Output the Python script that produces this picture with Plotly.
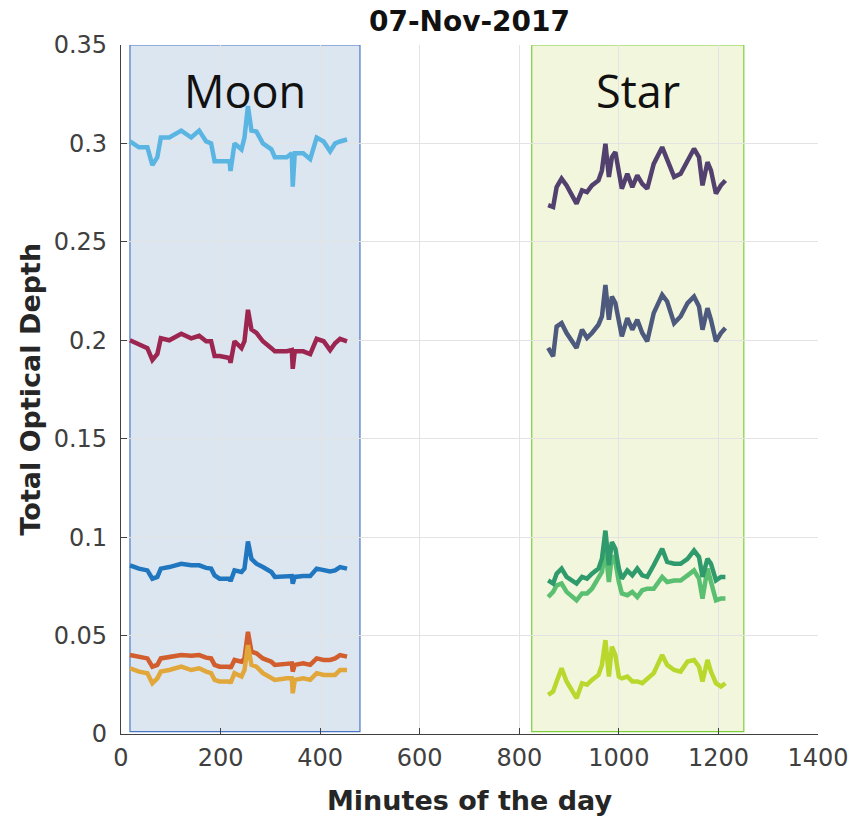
import plotly.graph_objects as go

title_text = "07-Nov-2017"
x_label = "Minutes of the day"
y_label = "Total Optical Depth"

x_tick_vals = [0, 200, 400, 600, 800, 1000, 1200, 1400]
y_tick_vals = [0, 0.05, 0.1, 0.15, 0.2, 0.25, 0.3, 0.35]
y_tick_text = ["0", "0.05", "0.1", "0.15", "0.2", "0.25", "0.3", "0.35"]

moon_window = [18, 480]
star_window = [825, 1251]

moon_minutes = [18, 36, 53, 63, 73, 80, 97, 121, 141, 157, 171, 181, 188, 198, 218, 220, 228, 242, 248,
                255, 262, 272, 285, 302, 309, 333, 343, 345, 349, 366, 380, 393, 407, 420, 430, 440, 454]

moon_lightblue = [0.301, 0.298, 0.298, 0.289, 0.293, 0.303, 0.303, 0.3065, 0.303, 0.3065, 0.301, 0.300,
                  0.291, 0.291, 0.291, 0.286, 0.300, 0.297, 0.303, 0.319, 0.3065, 0.306, 0.300, 0.297,
                  0.293, 0.293, 0.295, 0.278, 0.295, 0.295, 0.292, 0.303, 0.301, 0.296, 0.300, 0.301, 0.302]
moon_crimson = [0.200, 0.198, 0.196, 0.190, 0.193, 0.201, 0.200, 0.2033, 0.201, 0.2023, 0.1995, 0.1995,
                0.192, 0.192, 0.191, 0.1885, 0.1995, 0.196, 0.1995, 0.2155, 0.2055, 0.2038, 0.1995, 0.196,
                0.1944, 0.1944, 0.195, 0.1855, 0.1944, 0.1944, 0.193, 0.2007, 0.1995, 0.195, 0.1985,
                0.2007, 0.1995]
moon_blue = [0.0857, 0.084, 0.0831, 0.0789, 0.0798, 0.084, 0.0848, 0.0865, 0.0857, 0.0857, 0.0844, 0.084,
             0.0806, 0.0789, 0.0789, 0.0776, 0.0831, 0.0823, 0.084, 0.0978, 0.089, 0.0865, 0.0848, 0.0823,
             0.0798, 0.0802, 0.0802, 0.0764, 0.0798, 0.0802, 0.0802, 0.084, 0.0831, 0.0826, 0.0831,
             0.0848, 0.084]
moon_orange = [0.0401, 0.0393, 0.0384, 0.0342, 0.0351, 0.0384, 0.0393, 0.0401, 0.0397, 0.0401, 0.0388,
               0.0384, 0.0351, 0.0342, 0.0342, 0.0334, 0.0376, 0.0367, 0.0384, 0.0519, 0.0418, 0.041,
               0.0384, 0.0367, 0.0351, 0.0359, 0.0359, 0.0317, 0.0351, 0.0359, 0.0351, 0.0384, 0.0376,
               0.0376, 0.0384, 0.0401, 0.0393]
moon_yellow = [0.0334, 0.0317, 0.0309, 0.0258, 0.0283, 0.0317, 0.0325, 0.0342, 0.0325, 0.0334, 0.0317,
               0.0309, 0.0275, 0.0267, 0.0267, 0.0258, 0.0309, 0.0292, 0.0325, 0.0452, 0.0351, 0.0342,
               0.0309, 0.0283, 0.0275, 0.0283, 0.0283, 0.0207, 0.0275, 0.0283, 0.0275, 0.0309, 0.030,
               0.030, 0.030, 0.0325, 0.0325]

star_minutes = [858, 868, 875, 885, 895, 915, 926, 936, 946, 959, 966, 973, 980, 986, 993, 1000, 1006, 1017,
                1027, 1037, 1047, 1057, 1070, 1087, 1097, 1111, 1124, 1138, 1151, 1161, 1168, 1178, 1185,
                1195, 1205, 1214]

star_purple = [0.2686, 0.2677, 0.2778, 0.2821, 0.2787, 0.2694, 0.2762, 0.2753, 0.2787, 0.2812, 0.2863,
               0.2998, 0.283, 0.293, 0.2956, 0.2863, 0.277, 0.2846, 0.2778, 0.2838, 0.2795, 0.277, 0.2896,
               0.2981, 0.2913, 0.283, 0.2846, 0.2913, 0.2973, 0.293, 0.2787, 0.2905, 0.2863, 0.2745,
               0.2787, 0.2812]
star_slate = [0.1961, 0.1919, 0.207, 0.2087, 0.2037, 0.1961, 0.2054, 0.2012, 0.2037, 0.2079, 0.2121,
              0.2281, 0.2104, 0.2222, 0.2189, 0.2104, 0.202, 0.2113, 0.2054, 0.2104, 0.2037, 0.1995,
              0.2138, 0.2231, 0.2197, 0.2087, 0.2121, 0.2189, 0.2222, 0.2172, 0.2054, 0.2163, 0.2104,
              0.1995, 0.2037, 0.2062]
star_teal = [0.078, 0.0764, 0.0814, 0.084, 0.0798, 0.0764, 0.0798, 0.0789, 0.0814, 0.084, 0.089, 0.1033,
             0.0857, 0.0975, 0.0941, 0.084, 0.0789, 0.0831, 0.0806, 0.084, 0.0806, 0.0798, 0.0857, 0.0941,
             0.0874, 0.0865, 0.0865, 0.089, 0.0932, 0.0899, 0.0798, 0.089, 0.0865, 0.078, 0.0798, 0.0798]
star_green = [0.0696, 0.0722, 0.0755, 0.0764, 0.0722, 0.0679, 0.0714, 0.0714, 0.0738, 0.0789, 0.0823,
              0.0941, 0.0772, 0.0907, 0.0874, 0.0772, 0.0714, 0.0705, 0.0722, 0.0696, 0.073, 0.0738,
              0.0738, 0.0798, 0.0772, 0.078, 0.078, 0.0806, 0.0831, 0.0789, 0.0688, 0.084, 0.078, 0.0679,
              0.0688, 0.0688]
star_yellowgreen = [0.0199, 0.0216, 0.0267, 0.0334, 0.0267, 0.0182, 0.0258, 0.025, 0.0275, 0.030, 0.0351,
                    0.0477, 0.0292, 0.0444, 0.0401, 0.0292, 0.0283, 0.0292, 0.0267, 0.0267, 0.0258, 0.0283,
                    0.0309, 0.0401, 0.0351, 0.0325, 0.0317, 0.0368, 0.0376, 0.0342, 0.0267, 0.0376, 0.0317,
                    0.0258, 0.0241, 0.0258]

moon_series = [
    (moon_lightblue, "#5bb5e2"),
    (moon_crimson, "#9c2650"),
    (moon_blue, "#2077bf"),
    (moon_orange, "#d15e2c"),
    (moon_yellow, "#e1a73a"),
]
star_series = [
    (star_purple, "#52406e"),
    (star_slate, "#4d5a7d"),
    (star_green, "#5abf70"),
    (star_teal, "#2f9a6c"),
    (star_yellowgreen, "#b9d82e"),
]

L, R, T, B = 121, 34, 45, 87
W, H = 852, 821
PW, PH = W - L - R, H - T - B

fig = go.Figure()
for vals, col in moon_series:
    fig.add_trace(go.Scatter(x=moon_minutes, y=vals, mode="lines",
                             line=dict(color=col, width=4.5), showlegend=False))
for vals, col in star_series:
    fig.add_trace(go.Scatter(x=star_minutes, y=vals, mode="lines",
                             line=dict(color=col, width=4.5), showlegend=False))

fig.add_shape(type="rect", xref="x", yref="y", x0=moon_window[0], x1=moon_window[1], y0=0.0012, y1=0.35,
              fillcolor="#dce6f1", line=dict(color="#4a77c4", width=1.2), layer="below")
fig.add_shape(type="rect", xref="x", yref="y", x0=star_window[0], x1=star_window[1], y0=0.0012, y1=0.35,
              fillcolor="#f1f6dc", line=dict(color="#7ccf3c", width=1.2), layer="below")

fig.add_annotation(x=(moon_window[0] + moon_window[1]) / 2, y=0.327, xref="x", yref="y", text="Moon",
                   showarrow=False, font=dict(family="Open Sans", size=45, color="#111111"))
fig.add_annotation(x=(star_window[0] + star_window[1]) / 2, y=0.327, xref="x", yref="y", text="Star",
                   showarrow=False, font=dict(family="Open Sans", size=45, color="#111111"))

fig.add_annotation(x=0.5, y=-(801 - (H - B)) / PH, xref="paper", yref="paper", text="<b>" + x_label + "</b>",
                   showarrow=False, yanchor="middle", xanchor="center",
                   font=dict(family="DejaVu Sans", size=27, color="#262626"))
fig.add_annotation(x=-(L - 30) / PW, y=0.5, xref="paper", yref="paper", text="<b>" + y_label + "</b>",
                   showarrow=False, textangle=-90, yanchor="middle", xanchor="center",
                   font=dict(family="DejaVu Sans", size=27, color="#262626"))

fig.update_layout(
    width=W, height=H,
    margin=dict(l=L, r=R, t=T, b=B, autoexpand=False),
    paper_bgcolor="white", plot_bgcolor="white",
    title=dict(text="<b>" + title_text + "</b>", x=0.5, xref="paper", y=1 - 21 / H, yref="container",
               yanchor="middle", xanchor="center",
               font=dict(family="DejaVu Sans", size=28, color="#111111")),
    font=dict(family="DejaVu Sans", color="#404040"),
)

fig.update_xaxes(range=[0, 1400], tickvals=x_tick_vals, ticks="inside", ticklen=6, tickcolor="#404040",
                 showline=True, linecolor="#404040", linewidth=1.2, mirror=False, automargin=False,
                 showgrid=True, gridcolor="#e3e3e3", gridwidth=1, zeroline=False,
                 tickfont=dict(size=24, color="#404040"), ticklabelstandoff=2)
fig.update_yaxes(range=[0, 0.35], tickvals=y_tick_vals, ticktext=y_tick_text, ticks="inside", ticklen=6,
                 tickcolor="#404040", showline=True, linecolor="#404040", linewidth=1.2, automargin=False,
                 showgrid=True, gridcolor="#e3e3e3", gridwidth=1, zeroline=False,
                 tickfont=dict(size=24, color="#404040"), ticklabelstandoff=8)

fig.write_html("out.html", config={"displayModeBar": False},
               post_script="document.body.style.margin='0';document.body.style.padding='0';")
